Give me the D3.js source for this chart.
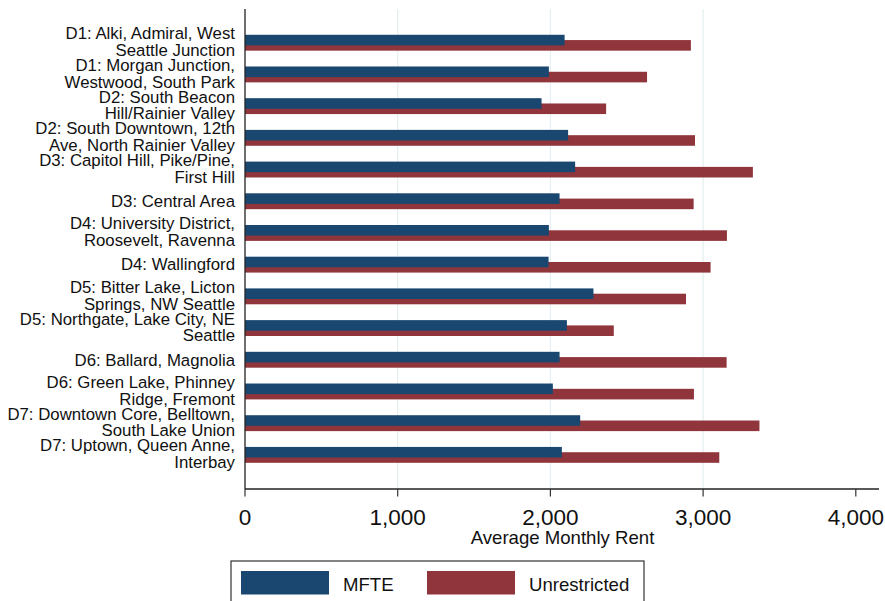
<!DOCTYPE html>
<html>
<head>
<meta charset="utf-8">
<script src="https://cdn.jsdelivr.net/npm/d3@7"></script>
<style>
  body { margin: 0; background: #fff; }
  svg text { font-family: Arial, "Liberation Sans", sans-serif; fill: #111; }
</style>
</head>
<body>
<svg width="885" height="601"></svg>
<script>
// Districts (label lines as they wrap in the chart)
var districtLines = [
    ["D1: Alki, Admiral, West", "Seattle Junction"],
    ["D1: Morgan Junction,", "Westwood, South Park"],
    ["D2: South Beacon", "Hill/Rainier Valley"],
    ["D2: South Downtown, 12th", "Ave, North Rainier Valley"],
    ["D3: Capitol Hill, Pike/Pine,", "First Hill"],
    ["D3: Central Area"],
    ["D4: University District,", "Roosevelt, Ravenna"],
    ["D4: Wallingford"],
    ["D5: Bitter Lake, Licton", "Springs, NW Seattle"],
    ["D5: Northgate, Lake City, NE", "Seattle"],
    ["D6: Ballard, Magnolia"],
    ["D6: Green Lake, Phinney", "Ridge, Fremont"],
    ["D7: Downtown Core, Belltown,", "South Lake Union"],
    ["D7: Uptown, Queen Anne,", "Interbay"]
];

// average monthly rent
var mfteRent = [2093, 1990, 1942, 2116, 2162, 2060, 1990, 1988, 2282, 2108, 2060, 2016, 2195, 2075];
var unrestrictedRent = [2920, 2633, 2365, 2947, 3326, 2938, 3156, 3049, 2888, 2415, 3154, 2940, 3369, 3106];

var xTicks = [0, 1000, 2000, 3000, 4000];
var seriesNames = ["MFTE", "Unrestricted"];
var seriesColors = ["#1a476f", "#90353b"];

var svg = d3.select("svg");

// plot area (window.top is reserved, so prefixed names)
var plotLeft = 245, plotRight = 879, plotTop = 9, plotBottom = 489;

var x = d3.scaleLinear()
    .domain([0, 4000])
    .range([plotLeft, 855.8]);

var rows = d3.range(districtLines.length);
var y = d3.scalePoint()
    .domain(rows)
    .range([plotTop, plotBottom])
    .padding(1.07);

var step = y.step();
var barH = step * 0.334;

// gridlines
svg.append("g")
    .selectAll("line")
    .data(xTicks.filter(function (d) { return d > 0 && d < 4000; }))
    .enter()
    .append("line")
    .attr("x1", function (d) { return x(d); })
    .attr("x2", function (d) { return x(d); })
    .attr("y1", plotTop)
    .attr("y2", plotBottom)
    .style("stroke", "#e6eff1")
    .style("stroke-width", 1.3);

// Unrestricted bars (behind)
svg.append("g")
    .selectAll("rect")
    .data(unrestrictedRent)
    .enter()
    .append("rect")
    .attr("x", x(0))
    .attr("y", function (d, i) { return y(i) - step * 0.09; })
    .attr("width", function (d) { return x(d) - x(0); })
    .attr("height", barH)
    .attr("fill", seriesColors[1]);

// MFTE bars (front)
svg.append("g")
    .selectAll("rect")
    .data(mfteRent)
    .enter()
    .append("rect")
    .attr("x", x(0))
    .attr("y", function (d, i) { return y(i) - step * 0.257; })
    .attr("width", function (d) { return x(d) - x(0); })
    .attr("height", barH)
    .attr("fill", seriesColors[0]);

// y axis line
svg.append("line")
    .attr("x1", plotLeft).attr("x2", plotLeft)
    .attr("y1", plotTop).attr("y2", plotBottom)
    .style("stroke", "#222")
    .style("stroke-width", 1.3);

// category labels
var labels = svg.append("g")
    .selectAll("text")
    .data(districtLines)
    .enter()
    .append("text")
    .attr("text-anchor", "end")
    .style("font-size", "16.8px");

labels.each(function (lines, i) {
    var n = lines.length;
    d3.select(this).selectAll("tspan")
        .data(lines)
        .enter()
        .append("tspan")
        .attr("x", 235)
        .attr("y", function (d, j) { return y(i) + 5.6 + (j - (n - 1) / 2) * 16.7 - (n > 1 ? 1 : 0); })
        .text(function (d) { return d; });
});

// x axis
var xAxis = svg.append("g");
xAxis.append("line")
    .attr("x1", plotLeft).attr("x2", plotRight)
    .attr("y1", plotBottom).attr("y2", plotBottom)
    .style("stroke", "#222")
    .style("stroke-width", 1.3);

xAxis.selectAll(".tick")
    .data(xTicks)
    .enter()
    .append("line")
    .attr("x1", function (d) { return x(d); })
    .attr("x2", function (d) { return x(d); })
    .attr("y1", plotBottom)
    .attr("y2", plotBottom + 7.5)
    .style("stroke", "#333")
    .style("stroke-width", 1.2);

xAxis.selectAll("text")
    .data(xTicks)
    .enter()
    .append("text")
    .attr("x", function (d) { return x(d); })
    .attr("y", 525)
    .attr("text-anchor", "middle")
    .style("font-size", "22.5px")
    .text(function (d) { return d3.format(",")(d); });

svg.append("text")
    .attr("x", 562.5)
    .attr("y", 544)
    .attr("text-anchor", "middle")
    .style("font-size", "18.6px")
    .text("Average Monthly Rent");

// legend
var legend = svg.append("g");
legend.append("rect")
    .attr("x", 231)
    .attr("y", 561)
    .attr("width", 413)
    .attr("height", 50)
    .attr("fill", "#fff")
    .style("stroke", "#333")
    .style("stroke-width", 1.2);

var legendX = [241, 427];
seriesNames.forEach(function (name, i) {
    legend.append("rect")
        .attr("x", legendX[i])
        .attr("y", 571)
        .attr("width", 88)
        .attr("height", 23.5)
        .attr("fill", seriesColors[i]);
    legend.append("text")
        .attr("x", legendX[i] + 102)
        .attr("y", 591)
        .style("font-size", "18.6px")
        .text(name);
});
</script>
</body>
</html>
